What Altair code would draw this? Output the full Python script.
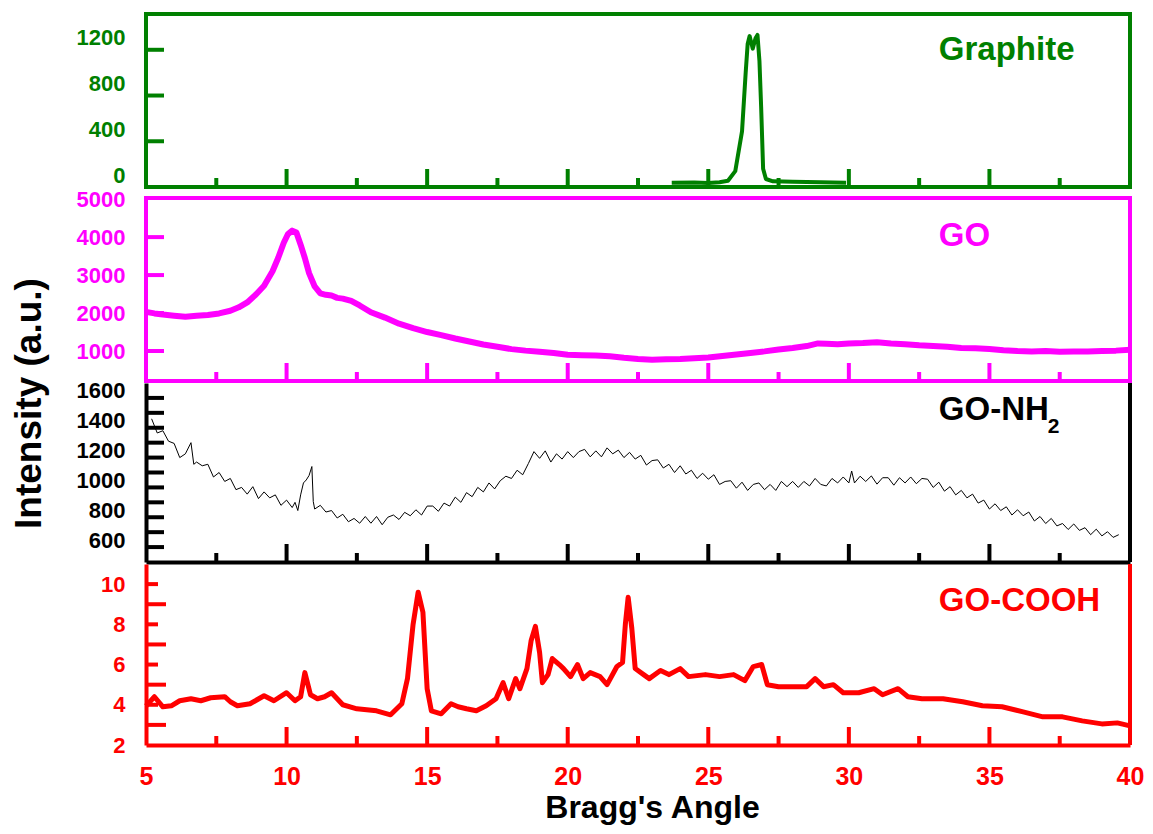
import altair as alt
import pandas as pd

FONT = "Liberation Sans"
GREEN = "#008000"
MAGENTA = "#FF00FF"
BLACK = "#000000"
RED = "#FF0000"
W = 984

# ---------------- data ----------------
x_tick_labels = [5, 10, 15, 20, 25, 30, 35, 40]
x_major_ticks = [10, 15, 20, 25, 30, 35]
x_minor_ticks = [7.5, 12.5, 17.5, 22.5, 27.5, 32.5, 37.5]

graphite_x = [23.7, 24.5, 25.0, 25.4, 25.7, 25.96, 26.2, 26.33, 26.4, 26.47, 26.58,
              26.68, 26.75, 26.82, 26.88, 26.95, 27.05, 27.3, 28.0, 29.0, 29.9]
graphite_y = [38, 40, 36, 42, 55, 139, 487, 1000, 1250, 1320, 1210,
              1300, 1330, 1100, 700, 160, 70, 50, 45, 42, 38]

go_x = [5.0, 5.3, 5.6, 6.0, 6.4, 6.8, 7.2, 7.6, 8.0, 8.3,
        8.6, 8.9, 9.2, 9.5, 9.7, 9.9, 10.05, 10.2, 10.35, 10.5,
        10.65, 10.8, 11.0, 11.2, 11.4, 11.6, 11.8, 12.0, 12.3, 12.6,
        13.0, 13.5, 14.0, 14.5, 15.0, 15.5, 16.0, 16.5, 17.0, 17.5,
        18.0, 18.5, 19.0, 19.5, 20.0, 20.5, 21.0, 21.5, 22.0, 22.5,
        23.0, 23.5, 24.0, 24.5, 25.0, 25.5, 26.0, 26.5, 27.0, 27.5,
        28.0, 28.5, 28.9, 29.2, 29.6, 30.0, 30.5, 31.0, 31.5, 32.0,
        32.5, 33.0, 33.5, 34.0, 34.5, 35.0, 35.5, 36.0, 36.5, 37.0,
        37.5, 38.0, 38.5, 39.0, 39.5, 40.0]
go_y = [2030, 1990, 1960, 1930, 1900, 1930, 1950, 1990, 2060, 2150,
        2280, 2480, 2720, 3100, 3450, 3850, 4080, 4170, 4120, 3800,
        3450, 3050, 2700, 2520, 2480, 2460, 2400, 2380, 2320, 2200,
        2020, 1880, 1720, 1600, 1500, 1420, 1330, 1250, 1170, 1110,
        1050, 1010, 980, 950, 900, 890, 880, 860, 820, 790,
        770, 780, 790, 810, 830, 870, 910, 950, 990, 1040,
        1080, 1130, 1200, 1190, 1180, 1200, 1210, 1230, 1200, 1180,
        1150, 1130, 1110, 1080, 1070, 1050, 1020, 1000, 990, 1000,
        980, 990, 990, 1000, 1010, 1030]

nh2_x = [5.2, 5.4, 5.6, 5.8, 6.0, 6.2, 6.4, 6.6, 6.7, 6.8,
         7.0, 7.2, 7.4, 7.6, 7.8, 8.0, 8.2, 8.4, 8.6, 8.8,
         9.0, 9.2, 9.4, 9.6, 9.8, 10.0, 10.2, 10.3, 10.4, 10.5,
         10.6, 10.7, 10.8, 10.9, 10.95, 11.0, 11.2, 11.4, 11.6, 11.8,
         12.0, 12.2, 12.4, 12.6, 12.8, 13.0, 13.2, 13.4, 13.6, 13.8,
         14.0, 14.2, 14.4, 14.6, 14.8, 15.0, 15.2, 15.4, 15.6, 15.8,
         16.0, 16.2, 16.4, 16.6, 16.8, 17.0, 17.2, 17.4, 17.6, 17.8,
         18.0, 18.2, 18.4, 18.6, 18.8, 19.0, 19.2, 19.4, 19.6, 19.8,
         20.0, 20.2, 20.4, 20.6, 20.8, 21.0, 21.2, 21.4, 21.6, 21.8,
         22.0, 22.2, 22.4, 22.6, 22.8, 23.0, 23.2, 23.4, 23.6, 23.8,
         24.0, 24.2, 24.4, 24.6, 24.8, 25.0, 25.2, 25.4, 25.6, 25.8,
         26.0, 26.2, 26.4, 26.6, 26.8, 27.0, 27.2, 27.4, 27.6, 27.8,
         28.0, 28.2, 28.4, 28.6, 28.8, 29.0, 29.2, 29.4, 29.6, 29.8,
         30.0, 30.1, 30.2, 30.4, 30.6, 30.8, 31.0, 31.2, 31.4, 31.6,
         31.8, 32.0, 32.2, 32.4, 32.6, 32.8, 33.0, 33.2, 33.4, 33.6,
         33.8, 34.0, 34.2, 34.4, 34.6, 34.8, 35.0, 35.2, 35.4, 35.6,
         35.8, 36.0, 36.2, 36.4, 36.6, 36.8, 37.0, 37.2, 37.4, 37.6,
         37.8, 38.0, 38.2, 38.4, 38.6, 38.8, 39.0, 39.2, 39.4, 39.6]
nh2_y = [1460, 1365, 1380, 1310, 1295, 1200, 1225, 1300, 1155, 1170,
         1145, 1155, 1070, 1100, 1040, 1060, 985, 1000, 955, 1005,
         925, 970, 930, 950, 880, 915, 865, 900, 845, 950,
         1030, 1050, 1080, 1140, 905, 855, 880, 835, 845, 795,
         820, 770, 792, 760, 805, 760, 805, 750, 800, 815,
         785, 833, 810, 850, 815, 875, 875, 840, 895, 875,
         935, 900, 965, 938, 1000, 970, 1030, 990, 1045, 1075,
         1060, 1115, 1085, 1160, 1240, 1195, 1245, 1170, 1225, 1190,
         1240, 1200, 1240, 1255, 1205, 1245, 1205, 1265, 1225, 1250,
         1200, 1235, 1190, 1215, 1150, 1180, 1185, 1130, 1155, 1100,
         1145, 1090, 1115, 1060, 1095, 1055, 1085, 1020, 1040, 1045,
         995, 1035, 980, 1020, 1030, 985, 1020, 980, 1040, 1005,
         1040, 1000, 1040, 1010, 1060, 1020, 1010, 1060, 1030, 1070,
         1030, 1110, 1030, 1075, 1040, 1077, 1022, 1065, 1065, 1015,
         1065, 1030, 1070, 1025, 1060, 1055, 1000, 1035, 975, 1005,
         950, 980, 930, 955, 895, 915, 855, 890, 845, 870,
         815, 850, 810, 835, 775, 805, 758, 792, 742, 758,
         718, 755, 712, 730, 683, 720, 675, 703, 665, 683]

cooh_x = [5.0, 5.3, 5.6, 5.9, 6.2, 6.6, 6.95, 7.3, 7.8, 8.0,
          8.25, 8.7, 9.2, 9.55, 10.0, 10.3, 10.5, 10.65, 10.85, 11.1,
          11.35, 11.6, 12.0, 12.5, 13.2, 13.7, 14.1, 14.3, 14.5, 14.68,
          14.85, 15.0, 15.15, 15.5, 15.85, 16.1, 16.4, 16.75, 17.1, 17.45,
          17.7, 17.9, 18.15, 18.3, 18.55, 18.7, 18.85, 19.0, 19.1, 19.3,
          19.45, 19.7, 19.85, 20.1, 20.35, 20.55, 20.8, 21.15, 21.4, 21.75,
          21.95, 22.05, 22.15, 22.28, 22.4, 22.7, 22.9, 23.3, 23.6, 24.0,
          24.3, 24.9, 25.4, 25.9, 26.3, 26.6, 26.9, 27.1, 27.5, 28.0,
          28.5, 28.8, 29.1, 29.45, 29.8, 30.35, 30.9, 31.2, 31.75, 32.1,
          32.6, 33.35, 34.05, 34.75, 35.45, 36.2, 36.9, 37.6, 38.3, 39.0,
          39.55, 40.0]
cooh_y = [3.94, 4.4, 3.9, 3.95, 4.2, 4.3, 4.2, 4.35, 4.4, 4.15,
          3.95, 4.05, 4.45, 4.2, 4.6, 4.2, 4.4, 5.6, 4.5, 4.3,
          4.4, 4.6, 4.0, 3.8, 3.7, 3.5, 4.05, 5.3, 8.0, 9.6,
          8.6, 4.8, 3.7, 3.55, 4.05, 3.9, 3.8, 3.7, 3.95, 4.3,
          5.1, 4.3, 5.3, 4.8, 5.8, 7.2, 7.9, 6.6, 5.1, 5.5,
          6.3, 6.0, 5.8, 5.4, 6.0, 5.3, 5.6, 5.4, 5.0, 5.9,
          6.1, 8.0, 9.35, 7.8, 5.8, 5.5, 5.3, 5.7, 5.5, 5.8,
          5.4, 5.5, 5.4, 5.5, 5.2, 5.9, 6.0, 5.0, 4.9, 4.9,
          4.9, 5.3, 4.9, 5.0, 4.6, 4.6, 4.8, 4.5, 4.8, 4.4,
          4.3, 4.3, 4.15, 3.95, 3.9, 3.65, 3.4, 3.4, 3.2, 3.05,
          3.1, 2.95]

graphite_yticks = [0, 400, 800, 1200]
go_yticks = [1000, 2000, 3000, 4000, 5000]
nh2_ylabels = [600, 800, 1000, 1200, 1400, 1600]
nh2_yticks = [600, 700, 800, 900, 1000, 1100, 1200, 1300, 1400, 1500, 1600]
cooh_ylabels = [2, 4, 6, 8, 10]
cooh_long_ticks = [3, 5, 7, 9]
cooh_short_ticks = [4, 6, 8, 10]

LABEL_X = 33.2

xscale = alt.Scale(domain=[5, 40], nice=False, zero=False)


def yaxis(values, color, offset=0, **kw):
    return alt.Axis(values=values, format="d", labelColor=color, labelFont=FONT,
                    labelFontSize=22, labelFontWeight="bold", labelPadding=21,
                    labelOffset=offset, labelFlush=False, labelOverlap=False,
                    ticks=False, tickSize=0, grid=False, **kw)


def panel(xs, ys, color, lw, ydom, h, yax, xax, ylong, yshort, label, label_y,
          ytick_long_len=18, ytick_short_len=12):
    yscale = alt.Scale(domain=ydom, nice=False, zero=False)

    def X():
        return alt.X("x:Q", scale=xscale, axis=xax)

    def Y():
        return alt.Y("y:Q", scale=yscale, axis=yax)

    layers = [
        alt.Chart(pd.DataFrame({"x": xs, "y": ys}))
        .mark_line(color=color, strokeWidth=lw, strokeJoin="round")
        .encode(x=X(), y=Y())
    ]
    if ylong:
        layers.append(alt.Chart(pd.DataFrame({"y": ylong}))
                      .mark_rule(color=color, strokeWidth=4)
                      .encode(y=Y(), x=alt.value(0), x2=alt.value(ytick_long_len)))
    if yshort:
        layers.append(alt.Chart(pd.DataFrame({"y": yshort}))
                      .mark_rule(color=color, strokeWidth=4)
                      .encode(y=Y(), x=alt.value(0), x2=alt.value(ytick_short_len)))
    layers.append(alt.Chart(pd.DataFrame({"x": x_major_ticks}))
                  .mark_rule(color=color, strokeWidth=4)
                  .encode(x=X(), y=alt.value(h), y2=alt.value(h - 18)))
    layers.append(alt.Chart(pd.DataFrame({"x": x_minor_ticks}))
                  .mark_rule(color=color, strokeWidth=4)
                  .encode(x=X(), y=alt.value(h), y2=alt.value(h - 9)))
    layers.append(alt.Chart(pd.DataFrame({"x": [LABEL_X], "y": [label_y], "t": [label]}))
                  .mark_text(align="left", baseline="alphabetic", font=FONT, fontSize=33,
                             fontWeight="bold", color=color)
                  .encode(x=X(), y=Y(), text="t:N"))
    return layers


# Graphite
g_layers = panel(graphite_x, graphite_y, GREEN, 4, [0, 1513], 173,
                 yaxis(graphite_yticks, GREEN, offset=-12, domain=False, title=None), None,
                 [400, 800, 1200], [], "Graphite", 1112)
graphite = alt.layer(*g_layers).properties(
    width=W, height=173, view=alt.ViewBackground(stroke=GREEN, strokeWidth=4))

# GO
go_layers = panel(go_x, go_y, MAGENTA, 6, [210, 5030], 183,
                  yaxis(go_yticks, MAGENTA, domain=False, title=None), None,
                  [1000, 2000, 3000, 4000], [], "GO", 3754)
go = alt.layer(*go_layers).properties(
    width=W, height=183, view=alt.ViewBackground(stroke=MAGENTA, strokeWidth=4))

# GO-NH2
nh2_yax = yaxis(nh2_ylabels, BLACK, offset=-7, domain=True, domainColor=BLACK, domainWidth=4,
                title="Intensity (a.u.)", titleFont=FONT, titleFontSize=37,
                titleFontWeight="bold", titleColor=BLACK, titleAngle=270,
                titleAlign="center", titleBaseline="alphabetic", titleX=-106, titleY=20)
nh2_xax = alt.Axis(labels=False, ticks=False, tickSize=0, grid=False, domain=True,
                   domainColor=BLACK, domainWidth=4, title=None)
nh2_layers = panel(nh2_x, nh2_y, BLACK, 1, [500, 1700], 179, nh2_yax, nh2_xax,
                   nh2_yticks, [], "GO-NH", 1453)
nh2_layers.append(alt.Chart(pd.DataFrame({"x": [LABEL_X], "y": [1453], "t": ["2"]}))
                  .mark_text(align="left", baseline="alphabetic", font=FONT, fontSize=21,
                             fontWeight="bold", color=BLACK, dx=109, dy=13)
                  .encode(x=alt.X("x:Q", scale=xscale, axis=nh2_xax),
                          y=alt.Y("y:Q", scale=alt.Scale(domain=[500, 1700], nice=False, zero=False),
                                  axis=nh2_yax),
                          text="t:N"))
nh2_layers.append(alt.Chart(pd.DataFrame({"a": [0]}))
                  .mark_rule(color=BLACK, strokeWidth=4)
                  .encode(x=alt.value(W), y=alt.value(0), y2=alt.value(179)))
nh2 = alt.layer(*nh2_layers).properties(width=W, height=179)

# GO-COOH
cooh_yax = yaxis(cooh_ylabels, RED, domain=True, domainColor=RED, domainWidth=4, title=None)
cooh_xax = alt.Axis(values=x_tick_labels, format="d", labelColor=RED, labelFont=FONT,
                    labelFontSize=25, labelFontWeight="bold", labelPadding=19,
                    labelFlush=False, labelOverlap=False, ticks=False, tickSize=0,
                    grid=False, domain=True, domainColor=RED, domainWidth=4,
                    title="Bragg's Angle", titleFont=FONT, titleFontSize=32,
                    titleFontWeight="bold", titleColor=BLACK, titleX=506, titleY=72,
                    titleAlign="center", titleBaseline="alphabetic")
cooh_layers = panel(cooh_x, cooh_y, RED, 5, [2, 11], 181, cooh_yax, cooh_xax,
                    cooh_long_ticks, cooh_short_ticks, "GO-COOH", 8.66,
                    ytick_long_len=20, ytick_short_len=12)
cooh_layers.append(alt.Chart(pd.DataFrame({"a": [0]}))
                   .mark_rule(color=RED, strokeWidth=4)
                   .encode(x=alt.value(W), y=alt.value(0), y2=alt.value(181)))
cooh = alt.layer(*cooh_layers).properties(width=W, height=181)

chart = alt.vconcat(
    graphite,
    alt.vconcat(go, nh2, cooh, spacing=2, bounds="flush"),
    spacing=11,
    bounds="flush",
).properties(
    padding={"top": 4, "left": 1, "right": 0, "bottom": 5},
    background="white",
).configure_view(strokeWidth=0)

chart.save("out.html", embed_options={"renderer": "svg", "actions": False})
